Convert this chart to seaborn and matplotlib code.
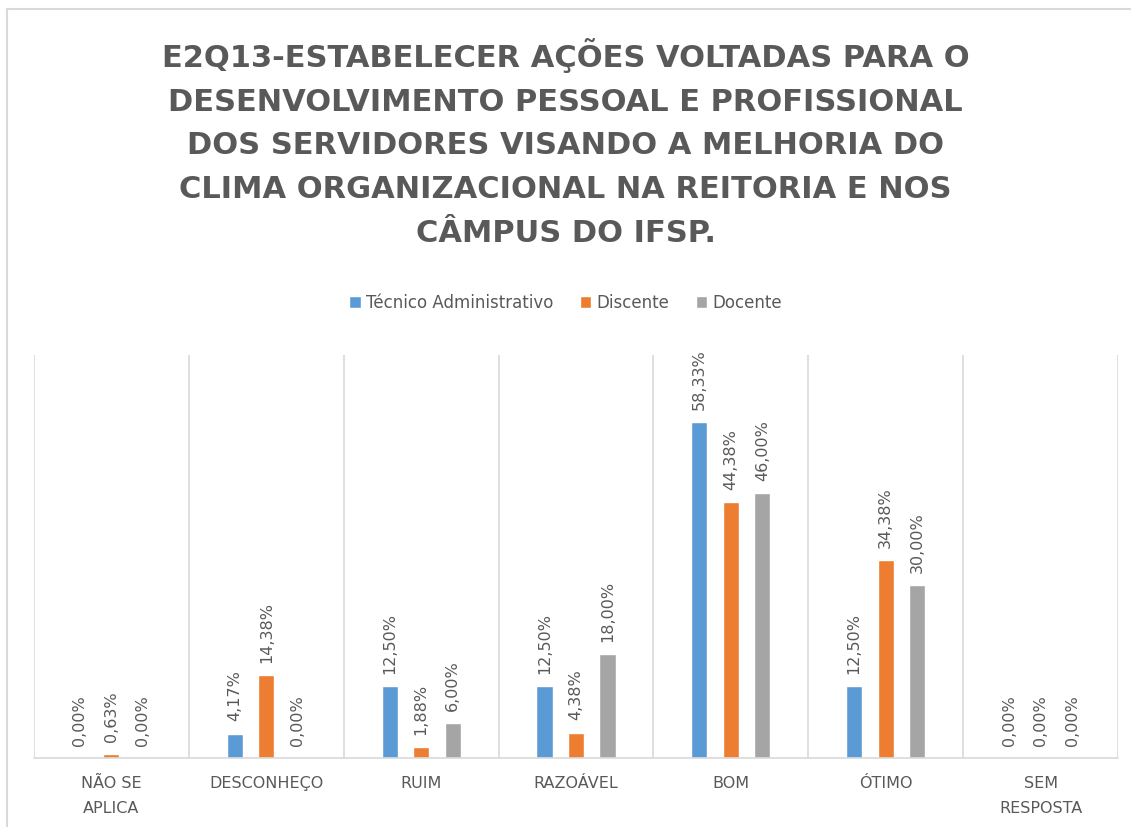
import matplotlib.pyplot as plt
import seaborn as sns
import pandas as pd
from matplotlib.lines import Line2D

categorias = ['NÃO SE\nAPLICA', 'DESCONHEÇO', 'RUIM', 'RAZOÁVEL', 'BOM', 'ÓTIMO', 'SEM\nRESPOSTA']
grupos = ['Técnico Administrativo', 'Discente', 'Docente']
tecnico = [0.00, 4.17, 12.50, 12.50, 58.33, 12.50, 0.00]
discente = [0.63, 14.38, 1.88, 4.38, 44.38, 34.38, 0.00]
docente = [0.00, 0.00, 6.00, 18.00, 46.00, 30.00, 0.00]
cores = ['#5B9BD5', '#ED7D31', '#A5A5A5']

titulo = ('E2Q13-ESTABELECER AÇÕES VOLTADAS PARA O\n'
          'DESENVOLVIMENTO PESSOAL E PROFISSIONAL\n'
          'DOS SERVIDORES VISANDO A MELHORIA DO\n'
          'CLIMA ORGANIZACIONAL NA REITORIA E NOS\n'
          'CÂMPUS DO IFSP.')

dados = pd.DataFrame({
    'Categoria': categorias * 3,
    'Grupo': [g for g in grupos for _ in categorias],
    'Valor': tecnico + discente + docente,
})

sns.set_theme(style="white")
plt.rcParams['font.family'] = ['DejaVu Sans']
cinza = '#595959'

fig = plt.figure(figsize=(11.31, 8.27), dpi=100)
ax = fig.add_axes([34 / 1131, 1 - 758 / 827, (1118 - 34) / 1131, (758 - 355) / 827])

sns.barplot(data=dados, x='Categoria', y='Valor', hue='Grupo', palette=cores,
            saturation=1, width=0.61, gap=0.49, ax=ax, legend=True)

# rótulos de dados
for cont, valores in zip(ax.containers, [tecnico, discente, docente]):
    rotulos = [f'{v:.2f}%'.replace('.', ',') for v in valores]
    ax.bar_label(cont, labels=rotulos, rotation=90, padding=9,
                 fontsize=11.5, color=cinza, clip_on=False)

ax.set_ylim(0, 70)
ax.set_xlim(-0.5, 6.5)
ax.set_yticks([])
ax.set_xlabel('')
ax.set_ylabel('')
ax.set_xticks([i + 0.5 for i in range(-1, 7)], minor=True)
ax.grid(which='minor', axis='x', color='#d9d9d9', linewidth=1.2)
ax.tick_params(axis='x', which='both', length=0, pad=13, labelsize=11.5, labelcolor=cinza)
for lbl in ax.get_xticklabels():
    lbl.set_linespacing(1.8)
for s in ['top', 'left', 'right']:
    ax.spines[s].set_visible(False)
ax.spines['bottom'].set_color('#d9d9d9')
ax.spines['bottom'].set_linewidth(1.2)

# legenda
handles, labels = ax.get_legend_handles_labels()
ax.get_legend().remove()
fig.legend(handles, labels, loc='center', bbox_to_anchor=(0.5, 1 - 303 / 827), ncol=3,
           frameon=False, fontsize=12, labelcolor=cinza, handlelength=0.7,
           handleheight=0.7, handletextpad=0.3, columnspacing=1.6)

# título
fig.text(0.5, 1 - 38 / 827, titulo, ha='center', va='top', fontsize=22,
         fontweight='bold', color=cinza, linespacing=1.64)

# borda do gráfico
fig.add_artist(Line2D([7 / 1131, 7 / 1131], [0, 1 - 9 / 827], transform=fig.transFigure,
                      color='#d9d9d9', linewidth=1.5))
fig.add_artist(Line2D([7 / 1131, 1], [1 - 9 / 827, 1 - 9 / 827], transform=fig.transFigure,
                      color='#d9d9d9', linewidth=1.5))

fig.savefig('out.png', dpi=100)
